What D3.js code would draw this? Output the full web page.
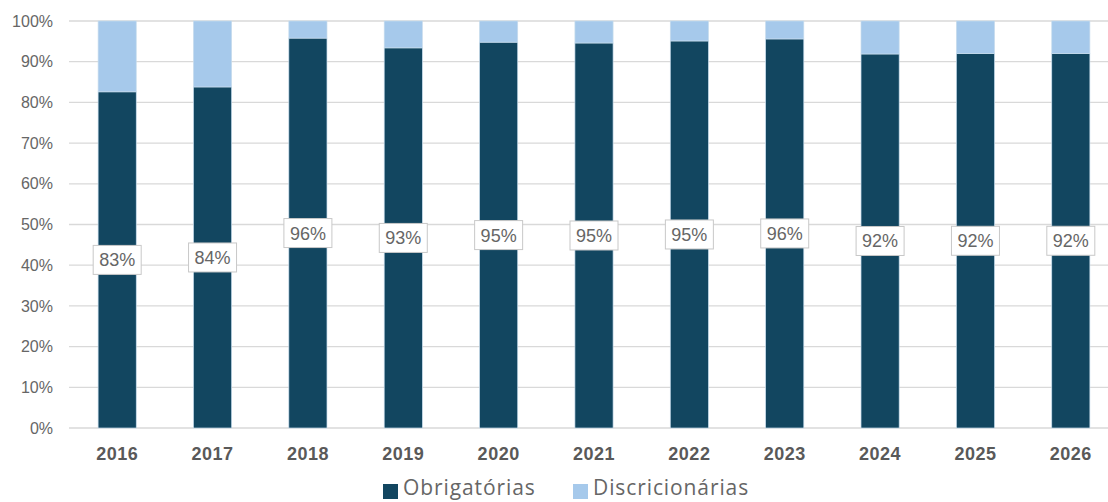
<!DOCTYPE html>
<html>
<head>
<meta charset="utf-8">
<script src="https://cdn.jsdelivr.net/npm/d3@7"></script>
<style>
body { margin: 0; background: #fff; }
svg { display: block; font-family: "Liberation Sans", Arial, sans-serif; }
</style>
</head>
<body>
<div id="chart"></div>
<script>
// data
var years = ["2016","2017","2018","2019","2020","2021","2022","2023","2024","2025","2026"];
var obrigatorias = [82.6, 83.8, 95.8, 93.4, 94.8, 94.6, 95.1, 95.6, 91.9, 92.0, 92.0];
var discricionarias = obrigatorias.map(function (v) { return 100 - v; });
var labels = ["83%","84%","96%","93%","95%","95%","95%","96%","92%","92%","92%"];
var yTicks = [0, 10, 20, 30, 40, 50, 60, 70, 80, 90, 100];
var seriesNames = ["Obrigatórias", "Discricionárias"];
var colors = ["#124660", "#a6c9eb"];

var W = 1108, H = 502;
var plotTop = 21, plotBottom = 428;
var textGray = "#666666";

var svg = d3.select("#chart").append("svg")
  .attr("width", W)
  .attr("height", H);

var x = d3.scaleBand()
  .domain(years)
  .range([69.5, 1118.5])
  .paddingInner(0.6)
  .paddingOuter(0.3);

var y = d3.scaleLinear()
  .domain([0, 100])
  .range([plotBottom, plotTop]);

// gridlines
svg.append("g")
  .selectAll("line").data(yTicks).enter()
  .append("line")
  .attr("x1", 69).attr("x2", W)
  .attr("y1", function (d) { return y(d); })
  .attr("y2", function (d) { return y(d); })
  .attr("stroke", "#d9d9d9")
  .attr("stroke-width", 1.3);

// y axis labels
var yAxis = svg.append("g")
  .attr("transform", "translate(53,0)")
  .call(d3.axisLeft(y).tickValues(yTicks).tickSize(0).tickPadding(0)
    .tickFormat(function (d) { return d + "%"; }));
yAxis.select(".domain").remove();
yAxis.selectAll("text")
  .attr("fill", textGray)
  .style("font-size", "16px")
  .style("font-family", "Liberation Sans, Arial, sans-serif");

// stacked bars
var rows = years.map(function (yr, i) {
  return { year: yr, o: obrigatorias[i], d: discricionarias[i], label: labels[i] };
});
var stack = d3.stack().keys(["o", "d"])(rows);

svg.append("g").selectAll("g").data(stack).enter()
  .append("g")
  .attr("fill", function (d, i) { return colors[i]; })
  .selectAll("rect").data(function (d) { return d; }).enter()
  .append("rect")
  .attr("x", function (d) { return x(d.data.year); })
  .attr("y", function (d) { return y(d[1]); })
  .attr("width", x.bandwidth())
  .attr("height", function (d) { return y(d[0]) - y(d[1]); })
  .attr("stroke", "#c7dced")
  .attr("stroke-width", 0.7);

// x axis labels
var xAxis = svg.append("g")
  .attr("transform", "translate(0," + plotBottom + ")")
  .call(d3.axisBottom(x).tickSize(0).tickPadding(19));
xAxis.select(".domain").remove();
xAxis.selectAll("text")
  .attr("fill", "#595959")
  .style("font-size", "18px")
  .style("font-weight", "bold")
  .style("letter-spacing", "0.5px")
  .style("font-family", "Liberation Sans, Arial, sans-serif");

// data labels in boxes
var lab = svg.append("g").selectAll("g").data(rows).enter()
  .append("g")
  .attr("transform", function (d) {
    return "translate(" + (x(d.year) + x.bandwidth() / 2) + "," + y(d.o / 2) + ")";
  });
lab.append("rect")
  .attr("x", -24).attr("y", -14.5)
  .attr("width", 48).attr("height", 29)
  .attr("fill", "#fff")
  .attr("stroke", "#c8c8c8")
  .attr("stroke-width", 1);
lab.append("text")
  .attr("text-anchor", "middle")
  .attr("dy", "0.36em")
  .attr("fill", textGray)
  .style("font-size", "18px")
  .text(function (d) { return d.label; });

// legend (pulled up a little so the text is not clipped)
var legend = svg.append("g").attr("transform", "translate(0,487)");
var legX = [383, 573];
seriesNames.forEach(function (name, i) {
  legend.append("rect")
    .attr("x", legX[i]).attr("y", -3)
    .attr("width", 15).attr("height", 15)
    .attr("fill", colors[i]);
  legend.append("text")
    .attr("x", legX[i] + 20).attr("y", 0)
    .attr("dy", "0.36em")
    .attr("fill", textGray)
    .style("font-size", "21px")
    .style("letter-spacing", "0.9px")
    .style("font-family", "Open Sans, sans-serif")
    .text(name);
});
</script>
</body>
</html>
